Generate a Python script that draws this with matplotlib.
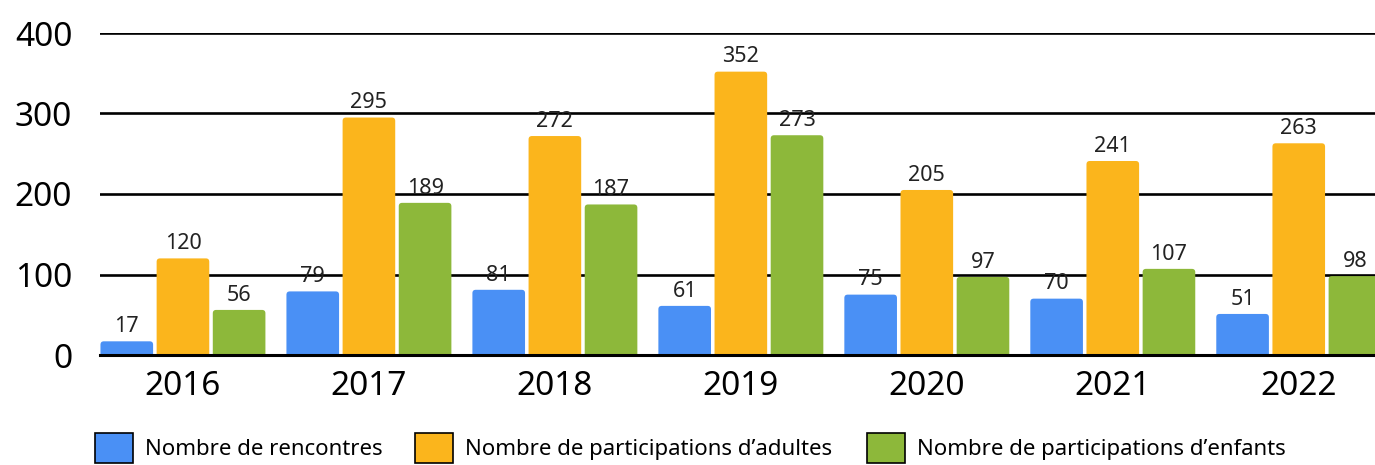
import matplotlib
matplotlib.use('Agg')
import matplotlib.pyplot as plt
from matplotlib.patches import FancyBboxPatch, Patch
import numpy as np

years = ['2016', '2017', '2018', '2019', '2020', '2021', '2022']
rencontres = [17, 79, 81, 61, 75, 70, 51]
adultes = [120, 295, 272, 352, 205, 241, 263]
enfants = [56, 189, 187, 273, 97, 107, 98]
series_names = ['Nombre de rencontres',
                'Nombre de participations d\u2019adultes',
                'Nombre de participations d\u2019enfants']
colors = ['#4a90f5', '#fbb51c', '#8db83a']

plt.rcParams['font.family'] = ['Noto Sans', 'DejaVu Sans']

fig = plt.figure(figsize=(13.75, 4.65), dpi=100)
ax = fig.add_axes([100/1375, 1 - 355/465, 1 - 100/1375, (355 - 33)/465])

x = np.arange(len(years))
w = 0.283
step = 0.302
for k, (vals, col) in enumerate(zip([rencontres, adultes, enfants], colors)):
    bars = ax.bar(x + (k - 1) * step, vals, width=w, color=col, zorder=3)
    for b in bars:
        b.set_visible(False)
        # rounded top corners
        fb = FancyBboxPatch((b.get_x(), b.get_y() - 4), b.get_width(), b.get_height() + 4,
                            boxstyle='round,pad=0,rounding_size=0.018',
                            mutation_aspect=230, facecolor=col, edgecolor='none',
                            zorder=3, clip_on=True)
        ax.add_patch(fb)
        ax.annotate(str(int(b.get_height())), (b.get_x() + b.get_width() / 2, b.get_height()),
                    xytext=(0, 3), textcoords='offset points', ha='center', va='bottom',
                    fontsize=15.5, color='#222222', zorder=4)

ax.set_xlim(-0.446, 6.41)
ax.set_ylim(0, 400)
ax.set_yticks([0, 100, 200, 300, 400])
ax.set_xticks(x)
ax.set_xticklabels(years)
ax.tick_params(axis='y', length=0, pad=20, labelsize=24)
ax.tick_params(axis='x', length=0, pad=11, labelsize=24)
ax.yaxis.grid(True, color='black', linewidth=1.9, zorder=1)
for s in ['top', 'right', 'left']:
    ax.spines[s].set_visible(False)
ax.spines['bottom'].set_linewidth(2.2)
ax.spines['bottom'].set_zorder(5)

# legend, one entry per position
leg_x = [95, 415, 867]
for name, col, lx in zip(series_names, colors, leg_x):
    h = Patch(facecolor=col, edgecolor='black', linewidth=1.2)
    fig.legend([h], [name], loc='upper left', bbox_to_anchor=(lx / 1375, 1 - 433 / 465),
               frameon=False, prop={'size': 16},
               handlelength=1.7, handleheight=1.7,
               handletextpad=0.55, borderpad=0, borderaxespad=0)

fig.savefig('out.png', dpi=100)
